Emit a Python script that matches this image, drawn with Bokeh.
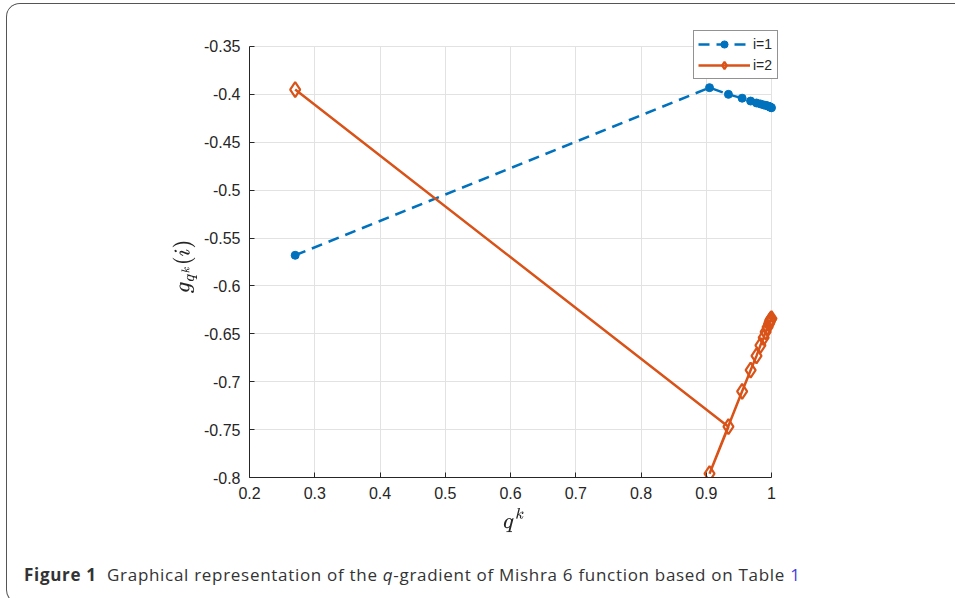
from bokeh.plotting import figure
from bokeh.models import FixedTicker, Legend, LegendItem, Div, Range1d, Grid
from bokeh.layouts import column
from bokeh.embed import file_html
from bokeh.resources import INLINE

# data
q1 = [0.27, 0.905, 0.934, 0.955, 0.968, 0.977, 0.983, 0.988, 0.991, 0.994, 0.996, 0.997, 0.998, 0.999, 1.0]
g1 = [-0.568, -0.393, -0.400, -0.404, -0.407, -0.409, -0.410, -0.411, -0.4115, -0.412, -0.4125, -0.413, -0.4133, -0.4136, -0.414]
q2 = [0.27, 0.934, 0.905, 0.955, 0.968, 0.977, 0.983, 0.988, 0.991, 0.994, 0.996, 0.997, 0.998, 0.999, 1.0]
g2 = [-0.395, -0.747, -0.796, -0.710, -0.688, -0.673, -0.662, -0.654, -0.648, -0.643, -0.640, -0.638, -0.636, -0.635, -0.634]
x_ticks = [0.2, 0.3, 0.4, 0.5, 0.6, 0.7, 0.8, 0.9, 1.0]
x_tick_labels = ["0.2", "0.3", "0.4", "0.5", "0.6", "0.7", "0.8", "0.9", "1"]
y_ticks = [-0.8, -0.75, -0.7, -0.65, -0.6, -0.55, -0.5, -0.45, -0.4, -0.35]
y_tick_labels = ["-0.8", "-0.75", "-0.7", "-0.65", "-0.6", "-0.55", "-0.5", "-0.45", "-0.4", "-0.35"]
series_labels = ["i=1", "i=2"]
x_lim = (0.2, 1.0)
y_lim = (-0.8, -0.35)

BLUE = "#0072BD"
ORANGE = "#D95319"
W, H = 947, 545
OX, OY, BW = 6, 3, 1.5          # layout offset and border width
# frame in page pixels: left 250, right 779 (legend room), top 30 (legend room), bottom 478
FL, FR, FT, FB = 250, 779, 30, 478
px_x = (772 - 250) / (x_lim[1] - x_lim[0])
px_y = (478 - 46) / (y_lim[1] - y_lim[0])

p = figure(width=W, height=H, output_backend="svg", toolbar_location=None,
           x_range=Range1d(x_lim[0], x_lim[1] + (FR - 772) / px_x),
           y_range=Range1d(y_lim[0], y_lim[1] + (46 - FT) / px_y),
           min_border_left=round(FL - OX - BW), min_border_right=round(W - (FR - OX - BW)),
           min_border_top=round(FT - OY - BW), min_border_bottom=round(OY + BW + H - FB))
p.outline_line_color = None
p.background_fill_color = "white"
p.border_fill_color = "white"

for ax, ticks, labels, lim in ((p.xaxis[0], x_ticks, x_tick_labels, x_lim),
                               (p.yaxis[0], y_ticks, y_tick_labels, y_lim)):
    ax.ticker = FixedTicker(ticks=ticks)
    ax.bounds = lim
    ax.major_label_overrides = {t: l for t, l in zip(ticks, labels)}
    ax.major_tick_in = 5
    ax.major_tick_out = 0
    ax.minor_tick_line_color = None
    ax.axis_line_color = "#262626"
    ax.major_tick_line_color = "#262626"
    ax.major_label_text_font = "Liberation Sans"
    ax.major_label_text_font_size = "16px"
    ax.major_label_text_color = "#262626"
    ax.axis_label_text_font_style = "normal"
    ax.axis_label_text_color = "#262626"

p.xaxis[0].axis_label = r"$$q^k$$"
p.yaxis[0].axis_label = r"$$g_{q^k}(i)\hspace{1.1em}$$"
p.xaxis[0].axis_label_text_font_size = "18px"
p.yaxis[0].axis_label_text_font_size = "19px"
p.xaxis[0].major_label_standoff = 9
p.yaxis[0].major_label_standoff = 9
p.xaxis[0].axis_label_standoff = 6
p.yaxis[0].axis_label_standoff = 4

has_cross = "cross_bounds" in Grid.properties()
p.xgrid[0].bounds = x_lim
p.ygrid[0].bounds = y_lim
if has_cross:
    p.xgrid[0].cross_bounds = y_lim
    p.ygrid[0].cross_bounds = x_lim
p.grid.grid_line_color = "#e2e2e2"
p.grid.grid_line_width = 1

l1 = p.line(q1, g1, line_color=BLUE, line_width=2.5, line_dash="11 7")
s1 = p.scatter(q1, g1, marker="circle", size=8, fill_color=BLUE, line_color=BLUE)
l2 = p.line(q2, g2, line_color=ORANGE, line_width=2.5)
s2 = p.scatter(q2, g2, marker="diamond", size=15, fill_alpha=0, line_color=ORANGE, line_width=2.2)

legend = Legend(items=[LegendItem(label=series_labels[0], renderers=[l1, s1]),
                       LegendItem(label=series_labels[1], renderers=[l2, s2])],
                location="top_right")
legend.border_line_color = "#262626"
legend.border_line_width = 1
legend.background_fill_alpha = 1
legend.label_text_font = "Liberation Sans"
legend.label_text_font_size = "14px"
legend.label_text_color = "#262626"
legend.glyph_width = 52
legend.glyph_height = 18
legend.label_height = 18
legend.spacing = 3
legend.padding = 4
legend.margin = 0
legend.label_standoff = 3
p.add_layout(legend)

cap = Div(text=('<b>Figure 1</b>&nbsp; Graphical representation of the <i>q</i>-gradient '
                'of Mishra 6 function based on Table <span style="color:#4040e0">1</span>'),
          width=W, height=44,
          styles={"font-family": "Open Sans", "font-size": "17px", "letter-spacing": "0.7px",
                  "color": "#333", "padding-left": "12px", "padding-top": "9px",
                  "white-space": "nowrap"})

layout = column(p, cap, spacing=0, margin=(OY, 0, 0, OX),
                styles={"border": f"{BW}px solid #555", "border-right": "none",
                        "border-radius": "14px 0 0 14px", "overflow": "hidden"})

open("out.html", "w").write(file_html(layout, INLINE))
